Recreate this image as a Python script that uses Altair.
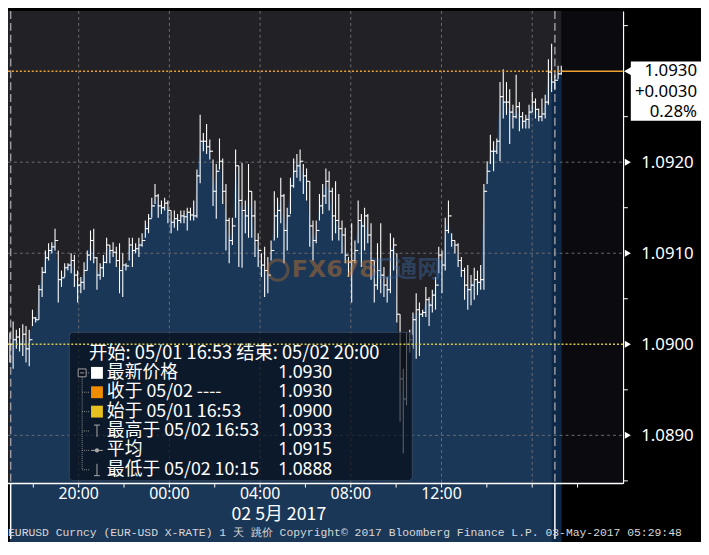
import altair as alt
import pandas as pd

# ---------------- data ----------------
high = [
    1.09013, 1.09025, 1.09016, 1.09018, 1.09022, 1.09020, 1.09016, 1.09038, 1.09030, 1.09065,
    1.09085, 1.09103, 1.09111, 1.09112, 1.09127, 1.09103, 1.09081, 1.09089, 1.09089, 1.09100,
    1.09098, 1.09081, 1.09074, 1.09090, 1.09103, 1.09125, 1.09127, 1.09096, 1.09089, 1.09098,
    1.09117, 1.09109, 1.09112, 1.09107, 1.09111, 1.09100, 1.09089, 1.09117, 1.09117, 1.09111,
    1.09117, 1.09122, 1.09136, 1.09143, 1.09161, 1.09176, 1.09165, 1.09158, 1.09161, 1.09158,
    1.09147, 1.09147, 1.09143, 1.09147, 1.09147, 1.09150, 1.09150, 1.09158, 1.09192, 1.09252,
    1.09232, 1.09242, 1.09225, 1.09203, 1.09198, 1.09226, 1.09204, 1.09176, 1.09139, 1.09139,
    1.09214, 1.09196, 1.09199, 1.09158, 1.09198, 1.09168, 1.09158, 1.09122, 1.09100, 1.09107,
    1.09096, 1.09114, 1.09168, 1.09161, 1.09183, 1.09165, 1.09150, 1.09183, 1.09204, 1.09209,
    1.09214, 1.09198, 1.09193, 1.09179, 1.09136, 1.09136, 1.09165, 1.09176, 1.09193, 1.09190,
    1.09172, 1.09179, 1.09165, 1.09136, 1.09128, 1.09096, 1.09133, 1.09114, 1.09158, 1.09143,
    1.09150, 1.09143, 1.09133, 1.09092, 1.09111, 1.09133, 1.09085, 1.09074, 1.09122, 1.09117,
    1.09100, 1.09033, 1.08973, 1.09013, 1.09016, 1.09035, 1.09056, 1.09046, 1.09038, 1.09063,
    1.09052, 1.09060, 1.09074, 1.09107, 1.09103, 1.09139, 1.09158, 1.09122, 1.09114, 1.09111,
    1.09096, 1.09084, 1.09087, 1.09076, 1.09084, 1.09081, 1.09087, 1.09176, 1.09201, 1.09230,
    1.09223, 1.09226, 1.09288, 1.09302, 1.09288, 1.09280, 1.09263, 1.09296, 1.09266, 1.09255,
    1.09252, 1.09263, 1.09277, 1.09270, 1.09259, 1.09270, 1.09274, 1.09313, 1.09330, 1.09296,
    1.09306, 1.09306,
]
low = [
    1.08980, 1.08973, 1.08995, 1.08992, 1.08987, 1.08980, 1.08976, 1.09020, 1.09024, 1.09027,
    1.09052, 1.09078, 1.09092, 1.09100, 1.09103, 1.09046, 1.09063, 1.09074, 1.09081, 1.09078,
    1.09063, 1.09046, 1.09056, 1.09060, 1.09081, 1.09092, 1.09089, 1.09060, 1.09071, 1.09074,
    1.09089, 1.09089, 1.09096, 1.09085, 1.09056, 1.09052, 1.09081, 1.09092, 1.09085, 1.09100,
    1.09096, 1.09107, 1.09117, 1.09122, 1.09139, 1.09154, 1.09139, 1.09143, 1.09147, 1.09133,
    1.09122, 1.09128, 1.09125, 1.09133, 1.09133, 1.09125, 1.09136, 1.09136, 1.09139, 1.09177,
    1.09212, 1.09209, 1.09203, 1.09152, 1.09138, 1.09192, 1.09154, 1.09103, 1.09089, 1.09109,
    1.09139, 1.09085, 1.09084, 1.09122, 1.09117, 1.09117, 1.09096, 1.09085, 1.09074, 1.09052,
    1.09056, 1.09092, 1.09114, 1.09117, 1.09133, 1.09089, 1.09103, 1.09143, 1.09172, 1.09183,
    1.09179, 1.09165, 1.09158, 1.09107, 1.09092, 1.09111, 1.09136, 1.09143, 1.09154, 1.09147,
    1.09114, 1.09122, 1.09114, 1.09100, 1.09089, 1.09074, 1.09046, 1.09089, 1.09111, 1.09085,
    1.09103, 1.09111, 1.09071, 1.09046, 1.09060, 1.09056, 1.09052, 1.09046, 1.09056, 1.09081,
    1.09024, 1.08915, 1.08880, 1.08933, 1.08991, 1.08995, 1.08984, 1.08987, 1.09030, 1.09030,
    1.09020, 1.09035, 1.09038, 1.09078, 1.09056, 1.09081, 1.09122, 1.09107, 1.09100, 1.09085,
    1.09074, 1.09049, 1.09038, 1.09043, 1.09049, 1.09054, 1.09060, 1.09060, 1.09176, 1.09198,
    1.09190, 1.09209, 1.09201, 1.09248, 1.09252, 1.09220, 1.09237, 1.09248, 1.09234, 1.09237,
    1.09237, 1.09237, 1.09255, 1.09248, 1.09245, 1.09245, 1.09248, 1.09263, 1.09277, 1.09280,
    1.09291, 1.09296,
]
close = [
    1.09000, 1.09005, 1.09008, 1.09000, 1.09011, 1.08995, 1.09005, 1.09029, 1.09027, 1.09060,
    1.09079, 1.09095, 1.09103, 1.09107, 1.09114, 1.09071, 1.09073, 1.09084, 1.09087, 1.09092,
    1.09076, 1.09065, 1.09068, 1.09081, 1.09098, 1.09114, 1.09095, 1.09076, 1.09084, 1.09090,
    1.09109, 1.09103, 1.09101, 1.09092, 1.09081, 1.09087, 1.09086, 1.09109, 1.09103, 1.09105,
    1.09109, 1.09114, 1.09127, 1.09138, 1.09152, 1.09163, 1.09152, 1.09150, 1.09155, 1.09147,
    1.09134, 1.09138, 1.09136, 1.09141, 1.09140, 1.09145, 1.09142, 1.09141, 1.09185, 1.09223,
    1.09223, 1.09217, 1.09212, 1.09168, 1.09190, 1.09201, 1.09168, 1.09136, 1.09114, 1.09130,
    1.09196, 1.09158, 1.09147, 1.09141, 1.09168, 1.09141, 1.09114, 1.09103, 1.09087, 1.09081,
    1.09076, 1.09103, 1.09141, 1.09147, 1.09163, 1.09125, 1.09141, 1.09174, 1.09190, 1.09196,
    1.09201, 1.09185, 1.09179, 1.09130, 1.09114, 1.09125, 1.09152, 1.09163, 1.09179, 1.09168,
    1.09141, 1.09136, 1.09127, 1.09120, 1.09098, 1.09090, 1.09092, 1.09103, 1.09136, 1.09130,
    1.09141, 1.09120, 1.09092, 1.09065, 1.09081, 1.09076, 1.09065, 1.09060, 1.09103, 1.09109,
    1.09033, 1.08962, 1.08940, 1.09000, 1.09005, 1.09027, 1.09038, 1.09033, 1.09035, 1.09049,
    1.09043, 1.09054, 1.09065, 1.09098, 1.09087, 1.09125, 1.09141, 1.09114, 1.09109, 1.09092,
    1.09081, 1.09065, 1.09060, 1.09065, 1.09071, 1.09068, 1.09071, 1.09168, 1.09190, 1.09212,
    1.09212, 1.09223, 1.09272, 1.09266, 1.09266, 1.09255, 1.09250, 1.09261, 1.09250, 1.09245,
    1.09247, 1.09255, 1.09266, 1.09258, 1.09250, 1.09253, 1.09266, 1.09299, 1.09288, 1.09290,
    1.09297, 1.09300,
]
start_price = 1.0900
last_price = 1.0930

first_bar = "2017-05-01T16:58:00"
last_bar = "2017-05-02T17:17:00"
view_start = "2017-05-01T16:53:00"
view_end = "2017-05-02T20:00:00"

major_y = [1.0890, 1.0900, 1.0910, 1.0920]
minor_y = [1.0885, 1.0895, 1.0905, 1.0915, 1.0925, 1.0935]
grid_y = [1.0890, 1.0910, 1.0920]
grid_x = ["2017-05-01T20:00:00", "2017-05-02T00:00:00", "2017-05-02T04:00:00",
          "2017-05-02T08:00:00", "2017-05-02T12:00:00", "2017-05-02T16:00:00"]
session_x = ["2017-05-01T17:00:00", "2017-05-02T17:00:00"]
tick_x = ["2017-05-01T18:00:00", "2017-05-01T20:00:00", "2017-05-01T22:00:00",
          "2017-05-02T00:00:00", "2017-05-02T02:00:00", "2017-05-02T04:00:00",
          "2017-05-02T06:00:00", "2017-05-02T08:00:00", "2017-05-02T10:00:00",
          "2017-05-02T12:00:00", "2017-05-02T14:00:00", "2017-05-02T16:00:00",
          "2017-05-02T18:00:00"]
label_x = ["2017-05-01T20:00:00", "2017-05-02T00:00:00", "2017-05-02T04:00:00",
           "2017-05-02T08:00:00", "2017-05-02T12:00:00"]
label_text = ["20:00", "00:00", "04:00", "08:00", "12:00"]

legend_title = "开始: 05/01 16:53 结束: 05/02 20:00"
legend_labels = ["最新价格", "收于 05/02 ----", "始于 05/01 16:53",
                 "最高于 05/02 16:53", "平均", "最低于 05/02 10:15"]
legend_values = ["1.0930", "1.0930", "1.0900", "1.0933", "1.0915", "1.0888"]
box_lines = ["1.0930", "+0.0030", "0.28%"]
date_label = "02 5月 2017"
footer = "EURUSD Curncy (EUR-USD X-RATE) 1 天  跳价 Copyright© 2017 Bloomberg Finance L.P. 03-May-2017 05:29:48"

# ---------------- styling ----------------
W, H = 622, 478
YMIN, YMAX = 1.08847, 1.09366
PLOT_BG = "#212126"
FUTURE_BG = "#0a0a0f"
AREA = "#1b3757"
AREA_NEW = "#0e2948"
GRID = "#6b6b70"
ORANGE = "#f0a030"
YELLOW = "#d8cc44"
CJK = "Noto Sans CJK SC"
SANS = "Noto Sans"


def dt(s):
    ts = pd.Timestamp(s)
    return alt.DateTime(year=ts.year, month=ts.month, date=ts.day,
                        hours=ts.hour, minutes=ts.minute)


times = pd.date_range(first_bar, last_bar, periods=len(close))
df = pd.DataFrame({"t": times, "high": high, "low": low, "close": close})
df["open"] = [start_price] + close[:-1]
new_session = pd.Timestamp(session_x[1])
df_new = df[df["t"] >= new_session - pd.Timedelta(minutes=9)]

xscale = alt.Scale(domain=[dt(view_start), dt(view_end)])
yscale = alt.Scale(domain=[YMIN, YMAX], zero=False, nice=False)

yaxis = alt.Axis(
    orient="right", values=major_y, format=".4f", labelColor="white",
    labelFontSize=17, labelFont=SANS, ticks=False, labelPadding=18,
    domainColor="white", domainWidth=1.5, grid=False, title=None,
    labelFlush=False, labelOverlap=False,
)


def X(f="t"):
    return alt.X(f"{f}:T", scale=xscale, axis=None)


def Y(f):
    return alt.Y(f"{f}:Q", scale=yscale, axis=yaxis)


one = pd.DataFrame({"k": [0]})
layers = []

# plot background
layers.append(alt.Chart(one).mark_rect(color=PLOT_BG).encode(
    x=alt.value(0), x2=alt.value(W), y=alt.value(0), y2=alt.value(H)))

# darker region after the last bar
fut = pd.DataFrame({"a": pd.to_datetime([last_bar]), "b": pd.to_datetime([view_end])})
layers.append(alt.Chart(fut).mark_rect(color=FUTURE_BG).encode(
    x=X("a"), x2="b:T", y=alt.value(0), y2=alt.value(H)))

# area under the close
layers.append(alt.Chart(df).mark_area(color=AREA, interpolate="linear").encode(
    x=X(), y=Y("close"), y2=alt.value(H)))
layers.append(alt.Chart(df_new).mark_area(color=AREA_NEW, interpolate="linear").encode(
    x=X(), y=Y("close"), y2=alt.value(H)))

# grid
gx = pd.DataFrame({"t": pd.to_datetime(grid_x)})
layers.append(alt.Chart(gx).mark_rule(color=GRID, strokeDash=[3, 3], strokeWidth=1).encode(
    x=X(), y=alt.value(0), y2=alt.value(H)))
gy = pd.DataFrame({"v": grid_y})
layers.append(alt.Chart(gy).mark_rule(color=GRID, strokeDash=[3, 3], strokeWidth=1).encode(
    y=Y("v"), x=alt.value(0), x2=alt.value(W)))

# session (17:00) lines
sx = pd.DataFrame({"t": pd.to_datetime(session_x)})
layers.append(alt.Chart(sx).mark_rule(color="#9a9aa0", strokeDash=[8, 4], strokeWidth=1.5).encode(
    x=X(), y=alt.value(0), y2=alt.value(H)))
layers.append(alt.Chart(sx).mark_rule(color="white", strokeWidth=1.5).encode(
    x=X(), y=alt.value(H), y2=alt.value(H + 56)))

# OHLC bars
base = alt.Chart(df)
layers.append(base.mark_rule(color="white", strokeWidth=1.1).encode(x=X(), y=Y("low"), y2="high"))
layers.append(base.mark_rule(color="white", strokeWidth=1.1, xOffset=-1.8, x2Offset=0).encode(
    x=X(), x2="t:T", y=Y("open")))
layers.append(base.mark_rule(color="white", strokeWidth=1.1, xOffset=0, x2Offset=1.8).encode(
    x=X(), x2="t:T", y=Y("close")))

# legend box (semi-transparent, above the bars)
layers.append(alt.Chart(one).mark_rect(
    fill="#050b14", fillOpacity=0.66, stroke="#33465e", strokeWidth=1, cornerRadius=4).encode(
    x=alt.value(62), x2=alt.value(409), y=alt.value(325), y2=alt.value(475)))

# reference price lines
ref_start = pd.DataFrame({"a": pd.to_datetime([view_start]), "b": pd.to_datetime([view_end]), "v": [start_price]})
layers.append(alt.Chart(ref_start).mark_rule(color=YELLOW, strokeDash=[2, 2], strokeWidth=1.5).encode(
    x=X("a"), x2="b:T", y=Y("v")))
ref_last1 = pd.DataFrame({"a": pd.to_datetime([view_start]), "b": pd.to_datetime([last_bar]), "v": [last_price]})
layers.append(alt.Chart(ref_last1).mark_rule(color=ORANGE, strokeDash=[2, 2], strokeWidth=1.5).encode(
    x=X("a"), x2="b:T", y=Y("v")))
ref_last2 = pd.DataFrame({"a": pd.to_datetime([last_bar]), "b": pd.to_datetime([view_end]), "v": [last_price]})
layers.append(alt.Chart(ref_last2).mark_rule(color=ORANGE, strokeWidth=1.5).encode(
    x=X("a"), x2="b:T", y=Y("v")))

# legend content
layers.append(alt.Chart(one).mark_text(
    x=82, y=346, text=legend_title, align="left", baseline="middle",
    font=CJK, fontSize=18.5, color="white"))
row_y = [366, 385.6, 405.2, 424.8, 444.4, 464]
for i, (lab, val) in enumerate(zip(legend_labels, legend_values)):
    yy = row_y[i]
    layers.append(alt.Chart(one).mark_text(
        x=100, y=yy, text=lab, align="left", baseline="middle",
        font=CJK, fontSize=18, color="white"))
    layers.append(alt.Chart(one).mark_text(
        x=328, y=yy, text=val, align="right", baseline="middle",
        font=SANS, fontSize=17.5, color="white"))
    layers.append(alt.Chart(one).mark_rule(color="#8a8a8a", strokeDash=[1, 1]).encode(
        x=alt.value(75), x2=alt.value(82), y=alt.value(yy)))

layers.append(alt.Chart(one).mark_rule(color="#8a8a8a", strokeDash=[1, 1]).encode(
    x=alt.value(75), y=alt.value(row_y[0]), y2=alt.value(row_y[-1])))
layers.append(alt.Chart(one).mark_rect(fill="#0a121e", stroke="#a0a0a0", strokeWidth=1).encode(
    x=alt.value(71), x2=alt.value(79), y=alt.value(row_y[0] - 4), y2=alt.value(row_y[0] + 4)))
layers.append(alt.Chart(one).mark_rule(color="#a0a0a0").encode(
    x=alt.value(73), x2=alt.value(77), y=alt.value(row_y[0])))
for yy, col in zip(row_y[:3], ["#ffffff", "#f08c00", "#e8c020"]):
    layers.append(alt.Chart(one).mark_rect(color=col).encode(
        x=alt.value(84), x2=alt.value(96), y=alt.value(yy - 6), y2=alt.value(yy + 6)))
GR = "#a8a8a8"
layers.append(alt.Chart(one).mark_rule(color=GR).encode(
    x=alt.value(90), y=alt.value(row_y[3] - 6), y2=alt.value(row_y[3] + 6)))
layers.append(alt.Chart(one).mark_rule(color=GR).encode(
    x=alt.value(87), x2=alt.value(93), y=alt.value(row_y[3] - 6)))
layers.append(alt.Chart(one).mark_rule(color=GR).encode(
    x=alt.value(84), x2=alt.value(96), y=alt.value(row_y[4])))
layers.append(alt.Chart(one).mark_point(
    shape="circle", size=18, filled=True, color=GR, opacity=1).encode(
    x=alt.value(90), y=alt.value(row_y[4])))
layers.append(alt.Chart(one).mark_rule(color=GR).encode(
    x=alt.value(90), y=alt.value(row_y[5] - 6), y2=alt.value(row_y[5] + 6)))
layers.append(alt.Chart(one).mark_rule(color=GR).encode(
    x=alt.value(87), x2=alt.value(93), y=alt.value(row_y[5] + 6)))

# x axis (drawn by hand)
layers.append(alt.Chart(one).mark_rule(color="white", strokeWidth=1.5).encode(
    x=alt.value(0), x2=alt.value(W), y=alt.value(H)))
tx = pd.DataFrame({"t": pd.to_datetime(tick_x)})
layers.append(alt.Chart(tx).mark_rule(color="white", strokeWidth=1).encode(
    x=X(), y=alt.value(H), y2=alt.value(H + 4)))
lx = pd.DataFrame({"t": pd.to_datetime(label_x), "lab": label_text})
layers.append(alt.Chart(lx).mark_text(
    baseline="middle", align="center", font=SANS, fontSize=16, color="white").encode(
    x=X(), y=alt.value(H + 11), text="lab:N"))

# right-hand axis decorations
my = pd.DataFrame({"v": minor_y})
layers.append(alt.Chart(my).mark_rule(color="white", strokeWidth=1).encode(
    x=alt.value(W), x2=alt.value(W + 5), y=Y("v")))
mj = pd.DataFrame({"v": major_y})
layers.append(alt.Chart(mj).mark_point(shape="triangle-right", filled=True, size=50,
                                       color="white", opacity=1).encode(
    x=alt.value(W + 5), y=Y("v")))

# last price box
lp = pd.DataFrame({"v": [last_price]})
layers.append(alt.Chart(one).mark_rect(color="white").encode(
    x=alt.value(630), x2=alt.value(701), y=alt.value(51), y2=alt.value(111)))
layers.append(alt.Chart(lp).mark_point(shape="triangle-left", filled=True, size=80,
                                       color="white", opacity=1).encode(
    x=alt.value(627), y=Y("v")))
for yy, txt in zip([61, 82, 102], box_lines):
    layers.append(alt.Chart(one).mark_text(
        x=697, y=yy, text=txt, align="right", baseline="middle",
        font=SANS, fontSize=17, color="black"))

# watermark
layers.append(alt.Chart(one).mark_point(
    shape="circle", size=420, filled=False, color="#c8782e",
    strokeWidth=3, opacity=0.35).encode(x=alt.value(273), y=alt.value(262)))
layers.append(alt.Chart(one).mark_text(
    x=287, y=262, text="FX678", align="left", baseline="middle",
    font="DejaVu Sans", fontSize=24, fontWeight="bold", color="#c8782e", opacity=0.45))
layers.append(alt.Chart(one).mark_text(
    x=366, y=262, text="汇通网", align="left", baseline="middle",
    font=CJK, fontSize=24, fontWeight="bold", color="#3f6fae", opacity=0.4))

# date label and footer
layers.append(alt.Chart(one).mark_text(
    x=274, y=510, text=date_label, align="center", baseline="middle",
    font=CJK, fontSize=18, color="white"))
layers.append(alt.Chart(one).mark_text(
    x=0, y=528, text=footer, align="left", baseline="middle",
    font="Liberation Mono", fontSize=11.5, color="#d8d8d8"))

chart = alt.layer(*layers).properties(
    width=W, height=H,
    padding={"left": 0, "top": 0, "right": 79, "bottom": 56},
    autosize=alt.AutoSizeParams(type="none"),
    background="#000000",
).configure_view(strokeWidth=0)

chart.save("out.html", embed_options={"renderer": "svg", "actions": False})
